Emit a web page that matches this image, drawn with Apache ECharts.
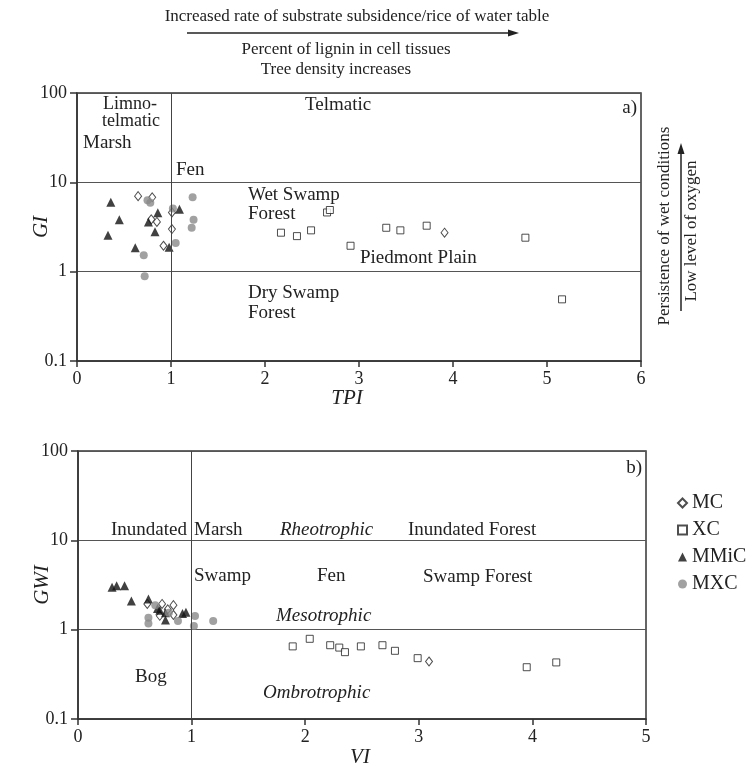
<!DOCTYPE html>
<html>
<head>
<meta charset="utf-8">
<script src="https://cdn.jsdelivr.net/npm/echarts@6/dist/echarts.min.js"></script>
<style>
  html, body { margin: 0; padding: 0; background: #fff; }
  #main { width: 756px; height: 776px; }
</style>
</head>
<body>
<div id="main"></div>
<script>
// series names
var seriesNames = ['MC', 'XC', 'MMiC', 'MXC'];

// a) TPI vs GI
var mcA = [[0.65, 7.0], [0.80, 6.8], [0.79, 3.85], [0.85, 3.6], [1.01, 4.6], [1.01, 3.0], [0.92, 1.95], [3.91, 2.73]];
var xcA = [[2.17, 2.73], [2.34, 2.5], [2.49, 2.9], [2.66, 4.6], [2.69, 4.9], [2.91, 1.95], [3.29, 3.1], [3.44, 2.9], [3.72, 3.27], [4.77, 2.4], [5.16, 0.49]];
var mmicA = [[0.36, 6.0], [0.45, 3.8], [0.33, 2.55], [0.62, 1.85], [0.86, 4.57], [0.76, 3.6], [0.83, 2.8], [0.98, 1.88], [1.09, 5.0]];
var mxcA = [[0.75, 6.3], [0.78, 5.9], [1.23, 6.8], [1.02, 5.1], [1.24, 3.8], [1.22, 3.1], [1.05, 2.1], [0.71, 1.53], [0.72, 0.89]];

// b) VI vs GWI
var mcB = [[0.61, 1.94], [0.74, 1.94], [0.84, 1.88], [0.84, 1.46], [0.72, 1.43], [0.79, 1.69], [3.09, 0.44]];
var xcB = [[1.89, 0.65], [2.04, 0.79], [2.22, 0.67], [2.30, 0.63], [2.35, 0.56], [2.49, 0.65], [2.68, 0.67], [2.79, 0.58], [2.99, 0.48], [3.95, 0.38], [4.21, 0.43]];
var mmicB = [[0.30, 2.98], [0.34, 3.1], [0.41, 3.1], [0.47, 2.1], [0.62, 2.2], [0.70, 1.73], [0.77, 1.55], [0.77, 1.28], [0.92, 1.52], [0.95, 1.57], [0.72, 1.65]];
var mxcB = [[0.68, 1.88], [0.62, 1.36], [0.62, 1.17], [0.88, 1.25], [1.03, 1.42], [1.02, 1.1], [1.19, 1.25], [0.80, 1.55]];

// axis limits / ticks
var xMaxA = 6, xMaxB = 5;
var yMin = 0.1, yMax = 100;
var dividerX = 1;

var FONT = "'Liberation Serif', 'Times New Roman', serif";
var INK = '#222';

var myChart = echarts.init(document.getElementById('main'));

function xAxisOf(gi, max, name, gap, shift) {
    return {
        gridIndex: gi, type: 'value', min: 0, max: max, interval: 1,
        name: name, nameLocation: 'middle', nameGap: gap, nameMoveOverlap: false,
        nameTextStyle: { fontFamily: FONT, fontStyle: 'italic', fontSize: 21, color: INK, padding: [0, shift, 0, 0] },
        axisLine: { lineStyle: { color: '#333', width: 1.5 } },
        axisTick: { inside: false, length: 6, lineStyle: { color: '#333', width: 1.5 } },
        axisLabel: { fontFamily: FONT, fontSize: 18, color: INK, margin: 9 },
        splitLine: { show: false }
    };
}
function yAxisOf(gi, name) {
    return {
        gridIndex: gi, type: 'log', logBase: 10, min: yMin, max: yMax,
        name: name, nameLocation: 'middle', nameGap: 25, nameRotate: 90, nameMoveOverlap: false,
        nameTextStyle: { fontFamily: FONT, fontStyle: 'italic', fontSize: 21, color: INK },
        axisLine: { lineStyle: { color: '#333', width: 1.5 } },
        axisTick: { inside: false, length: 7, lineStyle: { color: '#333', width: 1.5 } },
        axisLabel: { fontFamily: FONT, fontSize: 18, color: INK, margin: 10 },
        splitLine: { show: true, lineStyle: { color: '#555', width: 1 } }
    };
}

function styleOf(name) {
    if (name === 'MC') return { symbol: 'diamond', symbolSize: [7, 9], itemStyle: { color: '#fff', borderColor: '#222', borderWidth: 1 } };
    if (name === 'XC') return { symbol: 'rect', symbolSize: 7, itemStyle: { color: '#fff', borderColor: '#222', borderWidth: 1 } };
    if (name === 'MMiC') return { symbol: 'triangle', symbolSize: 9, itemStyle: { color: '#111' } };
    return { symbol: 'circle', symbolSize: 8, itemStyle: { color: '#8a8a8a' } };
}

var divLine = {
    silent: true, symbol: 'none', label: { show: false },
    lineStyle: { color: '#444', width: 1, type: 'solid' },
    data: [{ xAxis: dividerX }]
};

var series = [];
var dataA = [mcA, xcA, mmicA, mxcA];
var dataB = [mcB, xcB, mmicB, mxcB];
seriesNames.forEach(function (n, i) {
    var s1 = Object.assign({ name: n, type: 'scatter', xAxisIndex: 0, yAxisIndex: 0, data: dataA[i] }, styleOf(n));
    var s2 = Object.assign({ name: n, type: 'scatter', xAxisIndex: 1, yAxisIndex: 1, data: dataB[i] }, styleOf(n));
    if (i === 0) { s1.markLine = divLine; s2.markLine = divLine; }
    series.push(s1, s2);
});

function txt(x, y, t, size, italic, align) {
    return {
        type: 'text', x: x, y: y,
        style: {
            text: t, fill: INK, font: (italic ? 'italic ' : '') + size + 'px ' + FONT,
            textAlign: align || 'left', textVerticalAlign: 'middle'
        }
    };
}

myChart.setOption({
    animation: false,
    backgroundColor: '#fff',
    grid: [
        { left: 77, top: 93, width: 564, height: 268, show: true, borderColor: '#333', borderWidth: 1.5, backgroundColor: 'transparent' },
        { left: 78, top: 451, width: 568, height: 268, show: true, borderColor: '#333', borderWidth: 1.5, backgroundColor: 'transparent' }
    ],
    xAxis: [xAxisOf(0, xMaxA, 'TPI', 27, 24), xAxisOf(1, xMaxB, 'VI', 28, 4)],
    yAxis: [yAxisOf(0, 'GI'), yAxisOf(1, 'GWI')],
    legend: {
        data: seriesNames, orient: 'vertical', left: 672, top: 488,
        itemWidth: 9, itemHeight: 9, itemGap: 7,
        textStyle: { fontFamily: FONT, fontSize: 20, color: INK }
    },
    graphic: { elements: [
        // top annotation with arrow
        txt(357, 17, 'Increased rate of substrate subsidence/rice of water table', 17, false, 'center'),
        { type: 'line', shape: { x1: 187, y1: 33, x2: 510, y2: 33 }, style: { stroke: '#222', lineWidth: 1.5 } },
        { type: 'polygon', shape: { points: [[519, 33], [508, 29.5], [508, 36.5]] }, style: { fill: '#222' } },
        txt(346, 50, 'Percent of lignin in cell tissues', 17, false, 'center'),
        txt(336, 70, 'Tree density increases', 17, false, 'center'),
        // right annotation with arrow
        { type: 'text', x: 665, y: 226, rotation: Math.PI / 2,
          style: { text: 'Persistence of wet conditions', fill: INK, font: '17px ' + FONT, textAlign: 'center', textVerticalAlign: 'middle' } },
        { type: 'line', shape: { x1: 681, y1: 311, x2: 681, y2: 152 }, style: { stroke: '#222', lineWidth: 1.5 } },
        { type: 'polygon', shape: { points: [[681, 143], [677.5, 154], [684.5, 154]] }, style: { fill: '#222' } },
        { type: 'text', x: 692, y: 231, rotation: Math.PI / 2,
          style: { text: 'Low level of oxygen', fill: INK, font: '17px ' + FONT, textAlign: 'center', textVerticalAlign: 'middle' } },
        // a) panel labels
        txt(103, 104, 'Limno-', 18),
        txt(102, 121, 'telmatic', 18),
        txt(83, 143, 'Marsh', 19),
        txt(305, 105, 'Telmatic', 19),
        txt(637, 108, 'a)', 19, false, 'right'),
        txt(176, 170, 'Fen', 19),
        txt(248, 195, 'Wet Swamp', 19),
        txt(248, 214, 'Forest', 19),
        txt(360, 258, 'Piedmont Plain', 19),
        txt(248, 293, 'Dry Swamp', 19),
        txt(248, 313, 'Forest', 19),
        // b) panel labels
        txt(642, 468, 'b)', 19, false, 'right'),
        txt(111, 530, 'Inundated', 19),
        txt(194, 530, 'Marsh', 19),
        txt(280, 530, 'Rheotrophic', 19, true),
        txt(408, 530, 'Inundated Forest', 19),
        txt(194, 576, 'Swamp', 19),
        txt(317, 576, 'Fen', 19),
        txt(423, 577, 'Swamp Forest', 19),
        txt(276, 616, 'Mesotrophic', 19, true),
        txt(135, 677, 'Bog', 19),
        txt(263, 693, 'Ombrotrophic', 19, true)
    ] },
    series: series
});
</script>
</body>
</html>
